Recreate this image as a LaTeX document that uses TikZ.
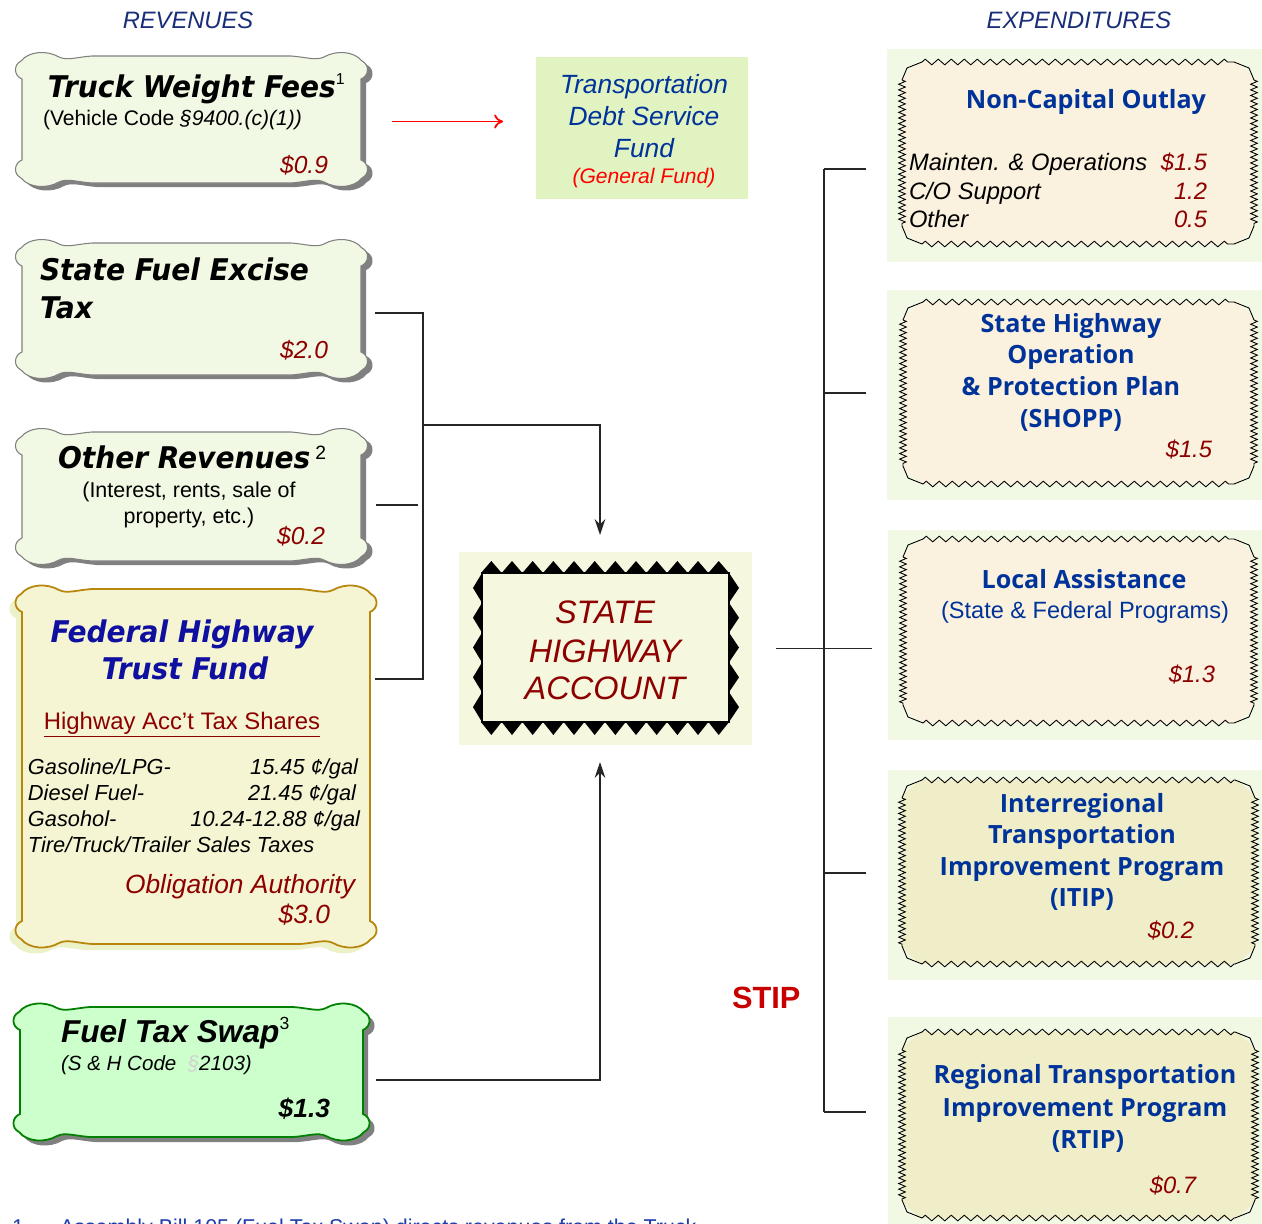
\documentclass[tikz,border=0pt]{standalone}
\usepackage{fontspec}
\setmainfont{Liberation Sans}
\newfontfamily\verdbi{DejaVu Sans Bold Oblique}[FakeStretch=0.94]
\newfontfamily\osans{Open Sans}
\usetikzlibrary{decorations.pathmorphing,arrows.meta,calc,fit}
\definecolor{navy}{RGB}{25,45,120}
\definecolor{dred}{RGB}{140,0,0}
\definecolor{ublue}{RGB}{0,51,153}
\definecolor{fblue}{RGB}{15,15,160}
\definecolor{footblue}{RGB}{30,60,170}
\definecolor{boxgreen}{RGB}{241,248,227}
\definecolor{shagreen}{RGB}{245,247,222}
\definecolor{tdsfgreen}{RGB}{226,243,194}
\definecolor{cream}{RGB}{250,241,222}
\definecolor{creamb}{RGB}{240,238,200}
\definecolor{fedfill}{RGB}{245,245,212}
\definecolor{fedline}{RGB}{184,134,11}
\definecolor{fedshadow}{RGB}{236,241,200}
\definecolor{swapfill}{RGB}{204,255,204}
\definecolor{swapline}{RGB}{0,128,0}
\definecolor{stipred}{RGB}{200,0,0}
\definecolor{shadowgray}{RGB}{128,128,128}
\newcommand\fsz[1]{\fontsize{#1}{#1}\selectfont}
% L T R B options
\newcommand\cloudbox[5]{%
 \path[#5] ({#1+4},{#2+9}) .. controls ({#1+12},{#2-1}) and ({#1+30},{#2-2}) .. ({#1+42},{#2+5})
 .. controls ({#1+50},{#2+9}) and ({#1+60},{#2+5}) .. ({#1+75},{#2+4})
 -- ({#3-75},{#2+4})
 .. controls ({#3-60},{#2+5}) and ({#3-50},{#2+9}) .. ({#3-42},{#2+5})
 .. controls ({#3-30},{#2-2}) and ({#3-12},{#2-1}) .. ({#3-4},{#2+9})
 .. controls ({#3+4},{#2+13}) and ({#3+3},{#2+24}) .. ({#3-5},{#2+27})
 -- ({#3-5},{#4-27})
 .. controls ({#3+3},{#4-24}) and ({#3+4},{#4-13}) .. ({#3-4},{#4-9})
 .. controls ({#3-12},{#4+1}) and ({#3-30},{#4+2}) .. ({#3-42},{#4-5})
 .. controls ({#3-50},{#4-9}) and ({#3-60},{#4-5}) .. ({#3-75},{#4-4})
 -- ({#1+75},{#4-4})
 .. controls ({#1+60},{#4-5}) and ({#1+50},{#4-9}) .. ({#1+42},{#4-5})
 .. controls ({#1+30},{#4+2}) and ({#1+12},{#4+1}) .. ({#1+4},{#4-9})
 .. controls ({#1-4},{#4-13}) and ({#1-3},{#4-24}) .. ({#1+5},{#4-27})
 -- ({#1+5},{#2+27})
 .. controls ({#1-3},{#2+24}) and ({#1-4},{#2+13}) .. ({#1+4},{#2+9}) -- cycle;}
\tikzset{
 zzh/.style={decorate,decoration={zigzag,segment length=7.4pt,amplitude=1.6pt},line width=0.5pt},
 zzv/.style={decorate,decoration={zigzag,segment length=3.2pt,amplitude=1.9pt},line width=0.5pt},
 conn/.style={line width=1.1pt,black!85},
 amt/.style={font=\itshape\fsz{14}, text=dred},
 ramt/.style={font=\itshape\fsz{13.5}, text=dred},
 ttl/.style={font=\verdbi\fsz{17}},
 rttl/.style={font=\osans\bfseries\fsz{14.3}, text=ublue},
 tbl/.style={font=\itshape\fsz{12.4}},
 hdr/.style={font=\itshape\fsz{13.5}, text=navy},
 shatxt/.style={font=\itshape\fsz{18.5}, text=dred},
 tdtxt/.style={font=\itshape\fsz{15}, text=ublue},
 boxfit/.style={inner sep=0pt, draw=none}
}
\newcommand\zigbox[5]{%
 \fill[#5] ({#1+18},#2) -- ({#3-18},#2) -- (#3,{#2+16}) -- (#3,{#4-16}) -- ({#3-18},#4) -- ({#1+18},#4) -- (#1,{#4-16}) -- (#1,{#2+16}) -- cycle;
 \draw[zzh] ({#1+20},#2) -- ({#3-20},#2);
 \draw[zzh] ({#1+20},#4) -- ({#3-20},#4);
 \draw[zzv] (#1,{#2+18}) -- (#1,{#4-18});
 \draw[zzv] (#3,{#2+18}) -- (#3,{#4-18});
 \draw[line width=0.5pt] ({#1+20},#2) -- ({#1+5},{#2+6}) -- (#1,{#2+18});
 \draw[line width=0.5pt] ({#3-20},#2) -- ({#3-5},{#2+6}) -- (#3,{#2+18});
 \draw[line width=0.5pt] ({#1+20},#4) -- ({#1+5},{#4-6}) -- (#1,{#4-18});
 \draw[line width=0.5pt] ({#3-20},#4) -- ({#3-5},{#4-6}) -- (#3,{#4-18});}
\begin{document}
\begin{tikzpicture}[x=0.02cm,y=-0.02cm, every node/.style={inner sep=0pt, outer sep=0pt}]
\useasboundingbox (0,0) rectangle (1262,1224);
\fill[white] (0,0) rectangle (1262,1224);

% headers
\node[hdr, anchor=base] (hrev) at (188,28) {REVENUES};
\node[hdr, anchor=base] (hexp) at (1079,28) {EXPENDITURES};

% ---------- left boxes ----------
\cloudbox{22}{56}{371}{191}{fill=shadowgray}
\cloudbox{17}{52}{366}{187}{fill=boxgreen, draw=shadowgray, line width=0.6pt}
\node[boxfit, fit={(17,52) (366,187)}] (twf) {};
\cloudbox{22}{243}{371}{383}{fill=shadowgray}
\cloudbox{17}{239}{366}{379}{fill=boxgreen, draw=shadowgray, line width=0.6pt}
\node[boxfit, fit={(17,239) (366,379)}] (sfe) {};
\cloudbox{22}{432}{371}{569}{fill=shadowgray}
\cloudbox{17}{428}{366}{565}{fill=boxgreen, draw=shadowgray, line width=0.6pt}
\node[boxfit, fit={(17,428) (366,565)}] (orv) {};
\cloudbox{11}{591}{369}{954}{fill=fedshadow}
\cloudbox{17}{585}{375}{948}{fill=fedfill, draw=fedline, line width=1pt}
\node[boxfit, fit={(17,585) (375,948)}] (fhtf) {};
\cloudbox{20}{1008}{373}{1146}{fill=shadowgray}
\cloudbox{15}{1003}{368}{1141}{fill=swapfill, draw=swapline, line width=1pt}
\node[boxfit, fit={(15,1003) (372,1141)}] (fts) {};

\node[ttl, anchor=base west] (t1) at (48,97) {Truck Weight Fees\raisebox{7pt}{\normalfont\fsz{9}1}};
\node[anchor=base west, font=\fsz{12}] (t2) at (43,125) {(Vehicle Code \textit{§9400.(c)(1))}};
\node[amt, anchor=base east] (t3) at (328,173) {\$0.9};

\node[ttl, anchor=base west] (t4) at (40,280) {State Fuel Excise};
\node[ttl, anchor=base west] (t5) at (40,318) {Tax};
\node[amt, anchor=base east] (t6) at (328,358) {\$2.0};

\node[ttl, anchor=base west] (t7) at (58,468) {Other Revenues\,\raisebox{5pt}{\normalfont\fsz{11}2}};
\node[anchor=base, font=\fsz{12.2}] (t8) at (189,497) {(Interest, rents, sale of};
\node[anchor=base, font=\fsz{12.2}] (t9) at (189,523) {property, etc.)};
\node[amt, anchor=base east] (t10) at (325,544) {\$0.2};

\node[anchor=base, text=fblue, font=\verdbi\fsz{17}] (t11) at (182,642) {Federal Highway};
\node[anchor=base, text=fblue, font=\verdbi\fsz{17}] (t12) at (185,679) {Trust Fund};
\node[anchor=base, font=\fsz{13.6}, text=dred] (t13) at (182,729) {\underline{Highway Acc’t Tax Shares}};
\node[tbl, anchor=base west] (t14) at (28,774) {Gasoline/LPG-};
\node[tbl, anchor=base east] (t15) at (358,774) {15.45 ¢/gal};
\node[tbl, anchor=base west] (t16) at (28,800) {Diesel Fuel-};
\node[tbl, anchor=base east] (t17) at (356,800) {21.45 ¢/gal};
\node[tbl, anchor=base west] (t18) at (28,826) {Gasohol-};
\node[tbl, anchor=base east] (t19) at (360,826) {10.24-12.88 ¢/gal};
\node[tbl, anchor=base west] (t20) at (28,852) {Tire/Truck/Trailer Sales Taxes};
\node[anchor=base east, font=\itshape\fsz{15}, text=dred] (t21) at (355,893) {Obligation Authority};
\node[anchor=base east, font=\itshape\fsz{15}, text=dred] (t22) at (330,923) {\$3.0};

\node[anchor=base west, font=\bfseries\itshape\fsz{18}] (t23) at (61,1042) {Fuel Tax Swap\raisebox{7pt}{\normalfont\fsz{10}3}};
\node[anchor=base west, font=\itshape\fsz{11.7}] (t24) at (61,1070) {(S \& H Code \ {\color{gray!35}§}2103)};
\node[anchor=base east, font=\bfseries\itshape\fsz{15}] (t25) at (330,1117) {\$1.3};

% ---------- Transportation Debt Service Fund ----------
\fill[tdsfgreen] (536,57) rectangle (748,199);
\node[boxfit, fit={(536,57) (748,199)}] (tdsf) {};
\node[tdtxt, anchor=base] (t26) at (644,93) {Transportation};
\node[tdtxt, anchor=base] (t27) at (644,125) {Debt Service};
\node[tdtxt, anchor=base] (t28) at (644,157) {Fund};
\node[anchor=base, font=\itshape\fsz{12}, text=red] (t29) at (644,183) {(General Fund)};

% ---------- State Highway Account ----------
\fill[shagreen] (459,552) rectangle (752,745);
\node[boxfit, fit={(459,552) (752,745)}] (sha) {};
\fill[black] foreach \i in {0,...,11} {({481+\i*20.67},573) -- ({481+(\i+0.5)*20.67},561) -- ({481+(\i+1)*20.67},573) -- cycle};
\fill[black] foreach \i in {0,...,11} {({481+\i*20.67},722) -- ({481+(\i+0.5)*20.67},735) -- ({481+(\i+1)*20.67},722) -- cycle};
\fill[black] foreach \j in {0,...,4} {(482,{573+\j*29.8}) -- (473,{573+(\j+0.5)*29.8}) -- (482,{573+(\j+1)*29.8}) -- cycle};
\fill[black] foreach \j in {0,...,4} {(729,{573+\j*29.8}) -- (739,{573+(\j+0.5)*29.8}) -- (729,{573+(\j+1)*29.8}) -- cycle};
\draw[fill=shagreen, line width=0.8pt] (482,573) rectangle (729,722);
\node[shatxt, anchor=base] (t30) at (605,623) {STATE};
\node[shatxt, anchor=base] (t31) at (605,662) {HIGHWAY};
\node[shatxt, anchor=base] (t32) at (605,699) {ACCOUNT};

% ---------- right boxes ----------
\fill[boxgreen] (887,49) rectangle (1266,262);
\node[boxfit, fit={(887,49) (1266,262)}] (nco) {};
\zigbox{902}{62}{1254}{244}{cream}
\fill[boxgreen] (887,290) rectangle (1266,500);
\node[boxfit, fit={(887,290) (1266,500)}] (shopp) {};
\zigbox{903}{302}{1254}{484}{cream}
\fill[boxgreen] (888,530) rectangle (1266,740);
\node[boxfit, fit={(888,530) (1266,740)}] (la) {};
\zigbox{903}{539}{1254}{723}{cream}
\fill[boxgreen] (888,770) rectangle (1266,980);
\node[boxfit, fit={(888,770) (1266,980)}] (itip) {};
\zigbox{902}{780}{1255}{964}{creamb}
\fill[boxgreen] (888,1017) rectangle (1266,1232);
\node[boxfit, fit={(888,1017) (1266,1232)}] (rtip) {};
\zigbox{902}{1032}{1255}{1218}{creamb}

\node[rttl, anchor=base] (t36) at (1086,108) {Non-Capital Outlay};
\node[anchor=base west, font=\itshape\fsz{13.5}] (t37) at (909,170) {Mainten. \& Operations};
\node[ramt, anchor=base east] (t38) at (1207,170) {\$1.5};
\node[anchor=base west, font=\itshape\fsz{13.5}] (t39) at (909,199) {C/O Support};
\node[ramt, anchor=base east] (t40) at (1207,199) {1.2};
\node[anchor=base west, font=\itshape\fsz{13.5}] (t41) at (909,227) {Other};
\node[ramt, anchor=base east] (t42) at (1207,227) {0.5};

\node[rttl, anchor=base] (t43) at (1071,332) {State Highway};
\node[rttl, anchor=base] (t44) at (1071,363) {Operation};
\node[rttl, anchor=base] (t45) at (1071,395) {\& Protection Plan};
\node[rttl, anchor=base] (t46) at (1071,427) {(SHOPP)};
\node[ramt, anchor=base east] (t47) at (1212,457) {\$1.5};

\node[rttl, anchor=base] (t48) at (1084,588) {Local Assistance};
\node[anchor=base, font=\fsz{13.4}, text=ublue] (t49) at (1085,618) {(State \& Federal Programs)};
\node[ramt, anchor=base east] (t50) at (1215,682) {\$1.3};

\node[rttl, anchor=base] (t51) at (1082,812) {Interregional};
\node[rttl, anchor=base] (t52) at (1082,843) {Transportation};
\node[rttl, anchor=base] (t53) at (1082,875) {Improvement Program};
\node[rttl, anchor=base] (t54) at (1082,906) {(ITIP)};
\node[ramt, anchor=base east] (t55) at (1194,938) {\$0.2};

\node[rttl, anchor=base] (t56) at (1085,1083) {Regional Transportation};
\node[rttl, anchor=base] (t57) at (1085,1116) {Improvement Program};
\node[rttl, anchor=base] (t58) at (1088,1148) {(RTIP)};
\node[ramt, anchor=base east] (t59) at (1196,1193) {\$0.7};

\node[anchor=base west, font=\bfseries\fsz{17.5}, text=stipred] (t35) at (732,1008) {STIP};

% ---------- connectors ----------
\coordinate (j1) at (423,313);
\coordinate (j2) at (423,679);
\coordinate (j3) at (423,425);
\coordinate (a1) at (600,535);
\coordinate (o1) at (418,505);
\coordinate (f1) at (600,762);
\coordinate (f2) at (600,1080);
\draw[conn] ($(sfe.east |- j1)+(9,0)$) -- (j1) -- (j2) -- (fhtf.east |- j2);
\draw[conn] ($(orv.east |- o1)+(10,0)$) -- (o1);
\draw[conn, -{Stealth[length=9pt,width=6pt]}] (j3) -| (a1);
\draw[conn, -{Stealth[length=9pt,width=6pt]}] ($(fts.east |- f2)+(4,0)$) -- (f2) -- (f1);
\draw[red, line width=1pt, -{To[length=5pt,width=8pt]}] ($(twf.east)+(26,2)$) -- ($(tdsf.west |- twf.east)+(-33,2)$);

\coordinate (vtop) at (824,169);
\coordinate (vbot) at (824,1112);
\coordinate (vs) at (824,393);
\coordinate (vi) at (824,873);
\draw[conn] (vtop) -- (vbot);
\draw[conn] (vtop) -- ($(nco.west |- vtop)+(-21,0)$);
\draw[conn] (vs) -- ($(shopp.west |- vs)+(-21,0)$);
\draw[conn] (vi) -- ($(itip.west |- vi)+(-22,0)$);
\draw[conn] (vbot) -- ($(rtip.west |- vbot)+(-22,0)$);
\draw[conn] ($(sha.east)+(24,0)$) -- ($(la.west |- sha.east)+(-16,0)$);

% footnote (cut off at page edge, as in the reference)
\node[anchor=base west, font=\fsz{12.2}, text=footblue] (t60) at (12,1234) {1.};
\node[anchor=base west, font=\fsz{12.2}, text=footblue] (t61) at (60,1234) {Assembly Bill 105 (Fuel Tax Swap) directs revenues from the Truck};
\end{tikzpicture}
\end{document}
